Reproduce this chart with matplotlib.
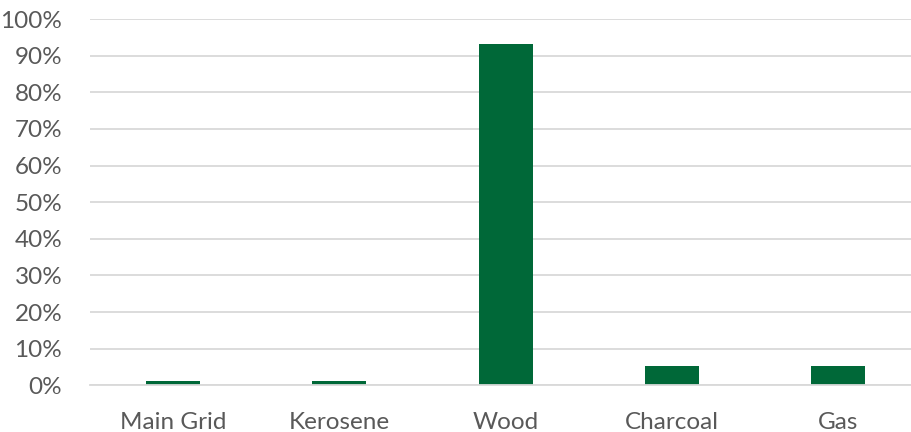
import matplotlib
matplotlib.use("Agg")
import matplotlib.pyplot as plt
from matplotlib.ticker import PercentFormatter, MultipleLocator

categories = ["Main Grid", "Kerosene", "Wood", "Charcoal", "Gas"]
shares = [1.1, 1.1, 93.2, 5.2, 5.2]

bar_color = "#006838"
text_color = "#595959"
grid_color = "#d9d9d9"

plt.rcParams["font.family"] = ["Lato", "DejaVu Sans"]

fig = plt.figure(figsize=(9.12, 4.32), dpi=100)
ax = fig.add_axes([90 / 912, 46.7 / 432, 831.5 / 912, 366.3 / 432])

x = range(len(categories))
ax.bar(x, shares, width=0.325, color=bar_color, zorder=3)

ax.set_xlim(-0.5, len(categories) - 0.5)
ax.set_ylim(0, 100)
ax.yaxis.set_major_locator(MultipleLocator(10))
ax.yaxis.set_major_formatter(PercentFormatter(decimals=0))
ax.set_xticks(list(x))
ax.set_xticklabels(categories)

ax.grid(axis="y", color=grid_color, linewidth=1.3, zorder=0)
for side in ("top", "right", "left"):
    ax.spines[side].set_visible(False)
ax.spines["bottom"].set_color(grid_color)
ax.spines["bottom"].set_linewidth(1.3)
ax.spines["bottom"].set_zorder(4)

ax.tick_params(axis="both", length=0, labelsize=17.5, colors=text_color)
ax.tick_params(axis="y", pad=20)
ax.tick_params(axis="x", pad=19)

fig.savefig("out.png", dpi=100)
